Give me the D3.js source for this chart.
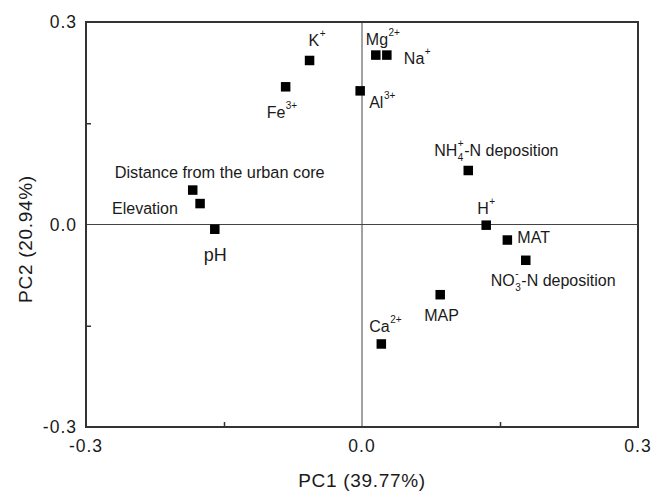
<!DOCTYPE html>
<html><head><meta charset="utf-8">
<script src="https://cdn.jsdelivr.net/npm/d3@7"></script>
<style>body{margin:0;background:#fff}svg{display:block}text{font-family:"Liberation Sans",Arial,sans-serif;fill:#1a1a1a}</style>
</head><body><svg id="c" width="652" height="491"></svg>
<script>
const names = ["K","Fe","Al","Mg","Na","Distance from the urban core","Elevation","pH","NH","H","MAT","NO","MAP","Ca"];
const pc1 = [-0.057,-0.083,-0.002,0.015,0.027,-0.184,-0.176,-0.160,0.1155,0.135,0.158,0.178,0.085,0.021];
const pc2 = [0.243,0.204,0.198,0.251,0.251,0.051,0.031,-0.007,0.080,-0.001,-0.023,-0.053,-0.104,-0.177];
const subs = ["","","","","","","","","4","","","3","",""];
const sups = ["+","3+","3+","2+","+","","","","+","+","","-","","2+"];
const posts = ["","","","","","","","","-N deposition","","","-N deposition","",""];
const labelDx = [-1,-19,9,-10,17,-78,-88,-11,-34,-9,10,-35,-16,-12];
const labelDy = [-14,31,17,-10,9,-12,10,32,-15,-11,3,26,26,-12];
const labelSize = [16,16,16,16,16,16.3,16,18,16,16,16,16,16,16];
const ticks = [-0.3,0.0,0.3];
const tickLabels = ["-0.3","0.0","0.3"];
const minorTicks = [-0.15,0.15];
const xTitle = "PC1 (39.77%)", yTitle = "PC2 (20.94%)";

const svg = d3.select("#c");
const L=86,R=638,T=22,B=427;
const x = d3.scaleLinear().domain([-0.3,0.3]).range([L,R]);
const y = d3.scaleLinear().domain([-0.3,0.3]).range([B,T]);

// zero lines
svg.append("line").attr("x1",x(0)).attr("x2",x(0)).attr("y1",T).attr("y2",B).attr("stroke","#444").attr("stroke-width",1);
svg.append("line").attr("x1",L).attr("x2",R).attr("y1",y(0)).attr("y2",y(0)).attr("stroke","#444").attr("stroke-width",1);

// axes (inward ticks)
const xAx = d3.axisBottom(x).tickValues(minorTicks).tickSize(-5).tickFormat("");
const yAx = d3.axisLeft(y).tickValues(minorTicks).tickSize(-5).tickFormat("");
const gx = svg.append("g").attr("transform",`translate(0,${B})`).call(xAx);
const gy = svg.append("g").attr("transform",`translate(${L},0)`).call(yAx);
[gx,gy].forEach(g=>{g.select(".domain").remove();g.selectAll("line").attr("stroke","#333").attr("stroke-width",1.5);});
// frame
svg.append("rect").attr("x",L).attr("y",T).attr("width",R-L).attr("height",B-T).attr("fill","none").attr("stroke","#333").attr("stroke-width",2);

// tick labels
svg.selectAll(".xt").data(ticks).join("text").attr("class","xt")
  .attr("x",d=>x(d)).attr("y",452).attr("text-anchor","middle").attr("font-size",17.5).attr("letter-spacing",1)
  .text((d,i)=>tickLabels[i]);
svg.selectAll(".yt").data(ticks).join("text").attr("class","yt")
  .attr("x",77).attr("y",d=>y(d)+6).attr("text-anchor","end").attr("font-size",17.5).attr("letter-spacing",1)
  .text((d,i)=>tickLabels[i]);

// axis titles
svg.append("text").attr("x",362).attr("y",487).attr("text-anchor","middle").attr("font-size",19).attr("letter-spacing",0.7).text(xTitle);
svg.append("text").attr("transform","translate(32,239) rotate(-90)").attr("text-anchor","middle").attr("font-size",19).attr("letter-spacing",0.7).text(yTitle);

// points
const pts = names.map((n,i)=>({n,px:pc1[i],py:pc2[i],sub:subs[i],sup:sups[i],post:posts[i],dx:labelDx[i],dy:labelDy[i],fs:labelSize[i]}));
const s=9.5;
svg.selectAll(".pt").data(pts).join("rect").attr("class","pt")
  .attr("x",d=>x(d.px)-s/2).attr("y",d=>y(d.py)-s/2).attr("width",s).attr("height",s).attr("fill","#000");

// labels
pts.forEach(d=>{
  const lx = x(d.px)+d.dx, ly = y(d.py)+d.dy;
  const g = svg.append("g");
  const main = g.append("text").attr("x",lx).attr("y",ly).attr("font-size",d.fs).text(d.n);
  let cx = lx + main.node().getComputedTextLength() + 0.5;
  let w = 0;
  if(d.sub){
    const t = g.append("text").attr("x",cx).attr("y",ly+5).attr("font-size",10).text(d.sub);
    w = Math.max(w,t.node().getComputedTextLength());
  }
  if(d.sup){
    const t = g.append("text").attr("x",cx).attr("y",ly-9).attr("font-size",10).text(d.sup);
    w = Math.max(w,t.node().getComputedTextLength());
  }
  if(d.post){
    g.append("text").attr("x",cx+w+0.5).attr("y",ly).attr("font-size",d.fs).text(d.post);
  }
});
</script></body></html>
